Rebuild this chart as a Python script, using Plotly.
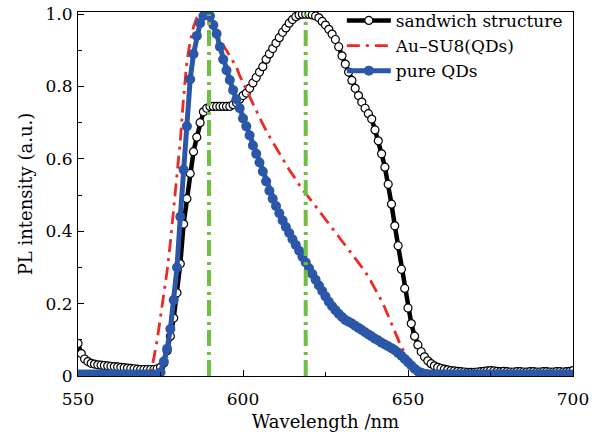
import plotly.graph_objects as go

# ---------------- data ----------------
wavelength = list(range(550, 701))  # nm, 1 nm steps

sandwich = [
    0.090, 0.062, 0.047, 0.040, 0.035, 0.033, 0.031, 0.030, 0.029, 0.028,  # 550-559
    0.027, 0.026, 0.025, 0.024, 0.023, 0.022, 0.021, 0.020, 0.019, 0.018,  # 560-569
    0.018, 0.018, 0.018, 0.018, 0.020, 0.024, 0.036, 0.070, 0.110, 0.160,  # 570-579
    0.230, 0.310, 0.420, 0.490, 0.560, 0.620, 0.660, 0.700, 0.730, 0.740,  # 580-589
    0.745, 0.745, 0.745, 0.745, 0.745, 0.745, 0.745, 0.750, 0.755, 0.765,  # 590-599
    0.775, 0.782, 0.795, 0.810, 0.825, 0.840, 0.855, 0.875, 0.890, 0.905,  # 600-609
    0.920, 0.935, 0.950, 0.962, 0.975, 0.985, 0.993, 0.998, 1.000, 1.000,  # 610-619
    1.000, 0.998, 0.995, 0.990, 0.980, 0.970, 0.958, 0.945, 0.930, 0.910,  # 620-629
    0.885, 0.862, 0.840, 0.817, 0.795, 0.775, 0.757, 0.740, 0.725, 0.710,  # 630-639
    0.680, 0.650, 0.614, 0.577, 0.530, 0.475, 0.415, 0.360, 0.295, 0.242,  # 640-649
    0.188, 0.145, 0.110, 0.086, 0.067, 0.053, 0.042, 0.034, 0.028, 0.024,  # 650-659
    0.021, 0.019, 0.017, 0.015, 0.014, 0.013, 0.012, 0.011, 0.010, 0.010,  # 660-669
    0.010, 0.011, 0.012, 0.013, 0.014, 0.015, 0.014, 0.013, 0.012, 0.013,  # 670-679
    0.012, 0.011, 0.011, 0.012, 0.012, 0.011, 0.011, 0.012, 0.012, 0.011,  # 680-689
    0.011, 0.012, 0.012, 0.011, 0.011, 0.012, 0.012, 0.011, 0.012, 0.013,  # 690-699
    0.015,                                                                 # 700
]

au_su8 = [
    0, 0, 0, 0, 0, 0, 0, 0, 0, 0,                                          # 550-559
    0, 0, 0, 0, 0, 0, 0, 0, 0, 0,                                          # 560-569
    0, 0, 0.010, 0.050, 0.100, 0.160, 0.220, 0.290, 0.370, 0.460,          # 570-579
    0.550, 0.650, 0.770, 0.870, 0.925, 0.965, 0.990, 1.000, 1.000, 0.990,  # 580-589
    0.975, 0.960, 0.945, 0.930, 0.915, 0.900, 0.885, 0.870, 0.854, 0.830,  # 590-599
    0.810, 0.790, 0.770, 0.752, 0.734, 0.715, 0.695, 0.678, 0.662, 0.646,  # 600-609
    0.630, 0.615, 0.600, 0.585, 0.570, 0.557, 0.543, 0.530, 0.515, 0.505,  # 610-619
    0.493, 0.482, 0.470, 0.460, 0.448, 0.436, 0.424, 0.412, 0.400, 0.388,  # 620-629
    0.376, 0.364, 0.352, 0.340, 0.328, 0.316, 0.303, 0.289, 0.274, 0.258,  # 630-639
    0.242, 0.226, 0.208, 0.188, 0.166, 0.143, 0.120, 0.100, 0.080, 0.065,  # 640-649
    0.050, 0.037, 0.027, 0.017, 0.008, 0.003, 0, 0, 0, 0,                  # 650-659
] + [0] * 41                                                               # 660-700

pure_qds = [
    0.004] * 25 + [                                                        # 550-574
    0.010, 0.040, 0.075, 0.130, 0.210,                                     # 575-579
    0.300, 0.440, 0.570, 0.690, 0.820, 0.890, 0.940, 0.975, 0.995, 1.000,  # 580-589
    0.995, 0.970, 0.946, 0.910, 0.875, 0.845, 0.818, 0.790, 0.765, 0.740,  # 590-599
    0.712, 0.690, 0.665, 0.637, 0.614, 0.590, 0.565, 0.538, 0.512, 0.490,  # 600-609
    0.470, 0.450, 0.430, 0.412, 0.395, 0.378, 0.362, 0.346, 0.330, 0.314,  # 610-619
    0.298, 0.282, 0.266, 0.250, 0.235, 0.220, 0.205, 0.193, 0.182, 0.172,  # 620-629
    0.163, 0.155, 0.150, 0.145, 0.139, 0.133, 0.127, 0.121, 0.115, 0.109,  # 630-639
    0.103, 0.098, 0.092, 0.087, 0.082, 0.077, 0.071, 0.064, 0.056, 0.047,  # 640-649
    0.038, 0.029, 0.020, 0.013, 0.009, 0.006, 0.005, 0.004, 0.004, 0.004,  # 650-659
] + [0.004] * 41                                                           # 660-700

peak_lines = [589.7, 619.0]   # green dash-dot guide lines (nm)
peak_span = [0.0, 1.0]

x_tickvals = [550, 600, 650, 700]
y_tickvals = [0, 0.2, 0.4, 0.6, 0.8, 1.0]
y_ticktext = ["0", "0.2", "0.4", "0.6", "0.8", "1.0"]

FONT = "DejaVu Serif"

fig = go.Figure()

fig.add_trace(go.Scatter(
    x=wavelength, y=sandwich, name="sandwich structure",
    mode="lines+markers",
    line=dict(color="black", width=4.5),
    marker=dict(symbol="circle", size=8, color="white",
                line=dict(color="black", width=1.2)),
))
fig.add_trace(go.Scatter(
    x=wavelength, y=au_su8, name="Au\u2013SU8(QDs)",
    mode="lines",
    line=dict(color="#ec2b24", width=2.8, dash="13px,6px,3px,6px"),
))
fig.add_trace(go.Scatter(
    x=wavelength, y=pure_qds, name="pure QDs",
    mode="lines+markers",
    line=dict(color="#2b57a8", width=5),
    marker=dict(symbol="circle", size=10, color="#2b57a8", line=dict(width=0)),
))
for xv in peak_lines:
    fig.add_trace(go.Scatter(
        x=[xv, xv], y=peak_span, mode="lines", showlegend=False,
        line=dict(color="#6fbf44", width=4, dash="16px,5px,3px,6px"),
    ))

fig.update_layout(
    width=603, height=435,
    margin=dict(l=78, r=30, t=12, b=59, autoexpand=False),
    paper_bgcolor="white", plot_bgcolor="white",
    font=dict(family=FONT, size=17, color="black"),
    showlegend=True,
    legend=dict(
        x=0.533, y=1.025, xanchor="left", yanchor="top",
        bgcolor="rgba(0,0,0,0)", borderwidth=0,
        font=dict(family=FONT, size=17, color="black"),
        itemwidth=44,
    ),
    xaxis=dict(
        range=[550, 700], tickvals=x_tickvals, ticks="inside", ticklen=6,
        tickwidth=1, tickcolor="black", automargin=False,
        minor=dict(dtick=25, ticks="inside", ticklen=4, tickcolor="black", tickwidth=1),
        showline=True, linecolor="black", linewidth=1, mirror=True,
        showgrid=False, zeroline=False,
        tickfont=dict(family=FONT, size=17), ticklabelstandoff=8,
        title=dict(text="Wavelength /nm", font=dict(family=FONT, size=18), standoff=6),
    ),
    yaxis=dict(
        range=[0, 1.006], tickvals=y_tickvals, ticktext=y_ticktext,
        ticks="inside", ticklen=6, tickwidth=1, tickcolor="black", automargin=False,
        minor=dict(dtick=0.1, ticks="inside", ticklen=4, tickcolor="black", tickwidth=1),
        showline=True, linecolor="black", linewidth=1, mirror=True,
        showgrid=False, zeroline=False,
        tickfont=dict(family=FONT, size=17), ticklabelstandoff=1,
        title=dict(text="PL intensity (a.u.)", font=dict(family=FONT, size=18), standoff=8),
    ),
)

fig.write_html("out.html", config={"displayModeBar": False},
               post_script="document.body.style.margin='0px';")
